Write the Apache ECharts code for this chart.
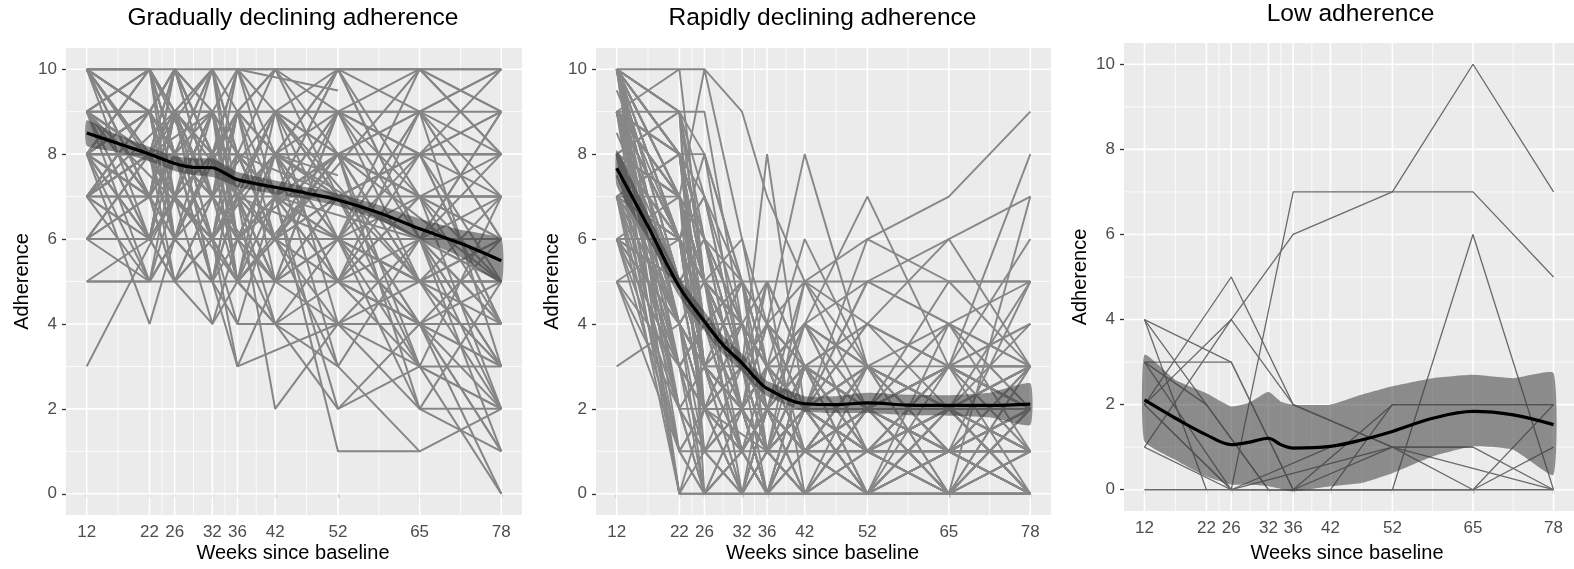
<!DOCTYPE html>
<html><head><meta charset="utf-8">
<script src="https://cdn.jsdelivr.net/npm/echarts@6/dist/echarts.min.js"></script>
<style>html,body{margin:0;padding:0;background:#fff}#c{width:1574px;height:569px}</style>
</head><body><div id="c"></div><script>
// ---------- data ----------
const weeks = [12, 22, 26, 32, 36, 42, 52, 65, 78];
const xTicks = [12, 22, 26, 32, 36, 42, 52, 65, 78];
const yTicks = [0, 2, 4, 6, 8, 10];
const panelTitles = ['Gradually declining adherence', 'Rapidly declining adherence', 'Low adherence'];
const xTitle = 'Weeks since baseline';
const yTitle = 'Adherence';

// individual trajectories: values at weeks 12,22,26,32,36,42,52,65,78 (null = missing)
const gradualTraj = [
  [10,10,10,10,10,10,10,10,10],[9,9,9,9,9,9,9,9,9],[8,8,8,8,8,8,8,8,8],[7,7,7,7,7,7,7,7,7],
  [6,6,6,6,6,6,6,6,6],[5,5,5,5,5,5,5,null,5],[3,null,7,6,5,4,4,4,4],[10,8,10,7,9,10,8,9,6],
  [9,7,6,8,7,5,6,5,3],[8,4,6,5,4,4,4,4,3],[10,9,8,10,8,7,10,6,2],[7,8,10,9,7,6,5,3,2],
  [8,6,5,4,6,8,7,5,5],[9,10,8,7,9,9,10,10,8],[6,5,7,8,6,7,5,4,1],[10,8,9,6,5,4,2,3,0],
  [8,7,6,5,3,5,4,2,2],[7,9,8,7,10,8,6,10,9],[9,8,7,6,5,4,3,1,null],[10,9,10,8,8,7,9,8,10],
  [8,9,7,9,6,7,8,7,6],[6,7,5,7,8,6,6,6,5],[9,6,8,7,6,5,5,4,5],[8,8,9,8,7,9,7,6,4],
  [7,6,6,5,7,6,4,4,3],[10,10,9,9,8,10,9,10,9],[5,6,7,6,5,5,6,5,4],[9,9,10,8,9,8,10,7,8],
  [8,5,6,7,6,4,5,4,4],[10,7,8,9,7,9,8,8,7],[7,8,7,4,5,6,6,5,2],[9,8,6,8,7,8,7,6,7],
  [8,7,8,6,4,7,6,3,3],[6,8,9,7,8,6,9,8,8],[10,9,8,7,6,7,5,7,5],[9,10,9,10,9,8,8,9,10],
  [8,6,7,8,7,2,4,5,5],[7,7,8,7,6,7,7,6,6],[10,9,10,9,10,null,9.5,null,null],[8,9,8,7,7,8,7.5,null,null],
  [9,7,9,8,null,6,3,null,null],[8,8,7,9,8,7,2,4,1],[7,5,6,6,3,null,4,3,2],[9,8,8,5,6,7,1,1,2],
  [6,6,5,6,7,8,10,9,10],[8,9,10,8,9,10,10,10,10],[10,10,9,10,10,9,9,8,9],[7,8,9,8,8,6,7,6,3],
  [9,8,8,9,6,5,6,4,0],[8,7,5,7,9,8,9,9,8],[5,5,6,8,5,6,5,7,7],[10,9,7,9,7,6,8,5,6],
  [9,7,10,7,8,7,6,2,5],[7,8,6,7,6,8,8,7,7],[8,10,8,8,10,10,7,8,8],
  [10,null,7,null,5,null,8,null,6],[9,null,null,6,null,9,null,5,null],[8,10,null,7,null,5,9,null,3],
  [10,6,9,null,7,null,6,8,4],[7,null,9,5,8,null,7,4,2],[9,8,null,10,6,8,null,6,1],
  [10,7,9,6,null,8,5,9,7],[8,9,6,null,9,6,8,null,5],[6,8,null,9,5,7,null,6,9],
  [9,5,8,7,null,9,7,3,null],[10,8,6,8,7,5,9,7,4],[8,7,9,5,8,6,null,10,8],
  [7,9,7,8,6,null,8,5,6],[9,6,7,9,8,7,6,9,3],[10,9,8,6,7,5,7,4,6],
  [8,10,7,8,5,9,6,7,null],[9,7,8,6,9,7,10,6,9],[7,6,9,7,5,8,5,8,5],
  [10,8,7,9,6,6,8,3,7],[6,7,8,5,7,9,4,6,4],[9,9,6,8,10,7,8,7,2],
  [8,6,9,9,7,4,6,9,6],[10,10,8,7,9,8,5,6,8],[7,8,5,6,8,7,9,5,3],
  [9,7,7,10,8,6,7,8,4],[8,9,9,7,6,8,3,6,5],[10,7,10,8,5,6,6,4,null],
  [9,10,6,9,7,9,8,2,1],[8,8,7,6,9,5,7,8,9],[7,9,8,10,7,8,6,5,7]
];
const rapidTraj = [
  [10,10,10,9,7,5,6,7,9],[10,9,8,5,3,2,5,6,7],[9,9,9,4,2,1,3,2,0],[10,7,10,6,3,2,1,1,1],
  [8,6,5,3,2,2,2,2,2],[7,5,3,2,1,0,0,0,0],[9,4,2,0,1,2,3,3,3],[6,5,5,5,5,5,5,4,3],
  [10,8,8,3,4,3,2,0,1],[8,3,1,2,0,1,0,2,5],[5,5,4,3,2,2,2,3,2],[9,7,6,4,3,2,1,0,0],
  [7,1,1,1,1,1,1,1,1],[10,0,0,0,0,0,0,0,0],[8,2,2,2,2,2,2,2,2],[6,4,3,4,5,3,2,1,0],
  [9,6,4,3,8,2,0,1,3],[10,9,7,5,4,8,3,2,1],[8,5,2,1,3,4,7,3,2],[7,6,5,2,2,3,1,3,8],
  [3,4,3,2,1,0,1,0,0],[5,3,2,4,3,2,0,4,2],[9,8,3,2,0,1,2,3,3],[10,5,2,3,2,1,3,2,0],
  [8,7,4,1,2,0,2,1,2],[6,2,0,1,0,2,1,0,1],[9,6,8,5,3,4,3,4,5],[7,4,3,2,4,5,4,3,3],
  [10,8,6,3,2,3,0,1,0],[5,6,5,4,3,2,5,5,5],[8,3,4,2,1,2,1,2,3],[9,5,3,0,2,1,3,0,7],
  [7,2,1,3,2,0,2,2,1],[10,6,5,3,4,2,2,1,0],[6,5,3,2,0,3,4,6,3],[8,4,3,4,3,4,3,2,2],
  [9,7,5,3,2,1,2,3,6],[7,5,2,2,3,2,6,5,5],[8,6,7,4,3,6,3,2,0],[10,4,0,2,1,3,2,3,2],
  [5,1,2,0,3,4,1,0,3],[9,8,4,3,5,3,0,0,0],[6,3,4,5,3,2,2,3,2],[8,9,5,2,1,0,1,1,1],
  [7,6,4,3,2,2,3,2,2],[9,2,3,1,0,2,0,2,1],[10,8,5,4,2,4,5,4,2],[6,4,2,3,4,2,2,0,2],
  [8,7,3,2,3,3,2,2,3],[7,3,2,1,2,1,0,1,0],[9,5,4,3,1,5,2,3,2],[8,6,3,5,2,1,3,1,0],
  [10,7,6,2,3,2,1,2,2],[5,2,1,0,2,3,2,1,2],[9,6,2,4,3,2,1,3,4],[8,5,4,1,2,3,4,2,3],
  [7,8,6,5,4,3,2,0,1],[10,6,3,2,5,0,3,2,2],[6,5,3,2,2,1,2,5,3],[8,4,1,2,3,2,1,2,2],
  [9,3,2,3,1,4,3,1,0],[7,6,5,4,3,2,2,4,1],[10,9,6,4,2,3,2,2,2],[8,2,3,2,1,1,2,3,3],
  [9,7,5,6,4,3,2,2,0],[6,6,2,3,0,2,1,0,2],[8,5,4,3,2,5,3,1,2],[7,4,3,1,3,2,2,2,3],
  [9,6,3,2,4,1,0,3,2],[10,8,7,3,2,2,2,1,2],[8.5,5,3,2,1,2,null,null,null],[7.5,4,2,null,1,0,null,null,null],
  [9.5,6,3,2,null,null,2,null,2],
  [10,7,5,3,2,3,2,1,2],[9,5,3,2,1,0,2,1,0],[8,6,4,2,3,1,1,3,2],[10,8,4,3,1,2,0,2,3],
  [7,5,4,1,2,1,3,2,1],[9,4,3,2,3,4,2,3,1],[8,7,5,4,2,1,2,1,3],[10,6,4,5,3,2,4,3,2],
  [6,3,2,2,1,2,1,2,0],[9,8,6,2,1,3,2,4,3],[8,4,5,3,4,2,1,1,2],[10,9,5,3,2,1,3,0,2],
  [7,7,4,2,3,2,2,3,4],[9,6,5,1,2,4,3,2,1],[8,5,3,4,1,3,0,2,2],[10,7,3,2,4,2,2,1,5],
  [6,4,5,3,2,1,1,2,1],[9,7,4,3,1,2,4,3,2],[8,3,2,1,2,0,2,0,0],[10,6,5,4,3,3,1,2,2],
  [7,5,6,3,2,2,3,1,3],[9,8,5,4,3,1,2,2,1],[8,6,2,3,2,4,1,3,2],[10,5,4,2,0,3,2,2,4],
  [7,3,4,2,1,1,2,1,2],[9,6,7,3,2,2,1,3,0],[8,7,3,5,1,2,3,2,3],[10,4,3,1,2,2,0,1,1],
  [6,5,4,2,3,1,2,3,2],[9,7,6,3,1,3,3,2,2],[8,5,4,4,2,2,2,0,3],[10,8,5,2,3,1,1,2,2],
  [7,6,3,3,2,4,2,3,1],[9,4,2,2,1,2,3,1,2],[8,6,5,3,4,3,1,2,0],[10,7,4,4,2,2,2,3,2],
  [7,4,3,1,0,1,2,2,3],[9,5,6,4,3,2,1,1,2],[8,7,4,2,2,3,2,1,1],[10,5,3,3,1,1,2,2,2],
  [9,0,1,0,2,1,0,1,0],[8,1,0,2,0,0,1,0,2],[10,2,0,1,0,1,0,0,1],[7,0,2,1,0,3,1,0,0],
  [9,3,0,0,1,0,2,1,0],[10,1,2,0,0,2,0,1,1],[8,0,0,1,2,0,1,2,0],[6,1,0,0,1,2,1,0,0],
  [9,2,1,0,0,1,0,0,2],[10,3,1,2,0,0,2,1,0],[8,9,0,1,0,2,0,1,1],[9,10,5,0,1,0,1,2,0],
  [7,8,3,0,2,1,0,0,1],[10,9,2,1,0,2,1,1,0],[6,7,1,2,0,0,0,2,1]
];
const lowTraj = [
  [0,0,0,0,0,0,0,0,0],[2,null,4,null,6,null,7,10,7],[1,null,0,null,7,null,7,7,5],
  [2,null,5,null,2,null,1,1,0],[3,null,3,null,0,null,2,2,2],[4,null,3,null,0,null,1,0,1],
  [4,0,null,null,null,null,null,null,null],[3,null,0,null,null,1,null,null,null],
  [1,null,4,null,2,null,1,null,0],[2,null,0,null,null,0,2,2,2],[4,null,null,0,null,null,0,6,0],
  [3,2,null,0,null,null,null,0,2],[2,null,0,null,null,null,1,1,null]
];

// smoothed mean and 95% band, read at these weeks
const smoothWeeks = [12, 17, 22, 26, 29, 32, 34, 36, 42, 47, 52, 58.5, 65, 71.5, 78];
const gradualMean  = [8.50, 8.25, 8.00, 7.78, 7.69, 7.68, 7.55, 7.40, 7.22, 7.08, 6.92, 6.62, 6.24, 5.90, 5.49];
const gradualUpper = [8.80, 8.45, 8.17, 7.95, 7.90, 7.90, 7.75, 7.58, 7.38, 7.22, 7.07, 6.80, 6.48, 6.22, 6.00];
const gradualLower = [8.20, 8.05, 7.83, 7.60, 7.50, 7.46, 7.35, 7.22, 7.06, 6.94, 6.78, 6.44, 6.00, 5.58, 4.98];
const rapidMean  = [7.67, 6.30, 4.87, 4.06, 3.50, 3.08, 2.75, 2.48, 2.12, 2.10, 2.14, 2.09, 2.08, 2.08, 2.11];
const rapidUpper = [8.10, 6.60, 5.10, 4.30, 3.72, 3.30, 2.95, 2.66, 2.30, 2.30, 2.38, 2.33, 2.32, 2.38, 2.60];
const rapidLower = [7.25, 6.00, 4.64, 3.84, 3.28, 2.88, 2.55, 2.30, 1.94, 1.90, 1.90, 1.85, 1.84, 1.80, 1.62];
const lowMean  = [2.11, 1.68, 1.29, 1.06, 1.12, 1.21, 1.06, 0.98, 1.02, 1.17, 1.37, 1.68, 1.84, 1.76, 1.53];
const lowUpper = [3.17, 2.58, 2.27, 1.96, 2.05, 2.30, 2.07, 2.00, 2.00, 2.23, 2.43, 2.62, 2.70, 2.62, 2.74];
const lowLower = [1.14, 0.70, 0.31, 0.12, 0.12, 0.08, 0.02, -0.04, 0.08, 0.16, 0.39, 0.78, 1.02, 0.94, 0.35];

const minorX = [17, 24, 29, 34, 39, 47, 58.5, 71.5];
const minorY = [1, 3, 5, 7, 9];

// ---------- chart ----------
const FONT = '"Liberation Sans", Arial, Helvetica, sans-serif';
const grids = [
  {left: 66, top: 48, width: 456, height: 467},
  {left: 596, top: 48, width: 455, height: 467},
  {left: 1124, top: 43, width: 455, height: 468}
];
const panels = [
  {traj: gradualTraj, mean: gradualMean, up: gradualUpper, lo: gradualLower, color: '#858585', width: 2.0},
  {traj: rapidTraj, mean: rapidMean, up: rapidUpper, lo: rapidLower, color: '#878787', width: 1.9},
  {traj: lowTraj, mean: lowMean, up: lowUpper, lo: lowLower, color: '#6a6a6a', width: 1.3}
];

const option = {
  animation: false,
  backgroundColor: '#ffffff',
  textStyle: {fontFamily: FONT},
  grid: grids.map(g => Object.assign({show: true, backgroundColor: '#ebebeb', borderWidth: 0, containLabel: false}, g)),
  xAxis: grids.map((g, i) => ({
    type: 'value', gridIndex: i, min: 8.7, max: 81.3,
    axisLine: {show: false}, splitLine: {show: false},
    axisTick: {show: true, customValues: xTicks, length: 4, lineStyle: {color: '#333', width: 1.3}},
    axisLabel: {customValues: xTicks, margin: 9, fontSize: 17, color: '#4d4d4d', fontFamily: FONT}
  })),
  yAxis: grids.map((g, i) => ({
    type: 'value', gridIndex: i, min: -0.5, max: 10.5,
    axisLine: {show: false}, splitLine: {show: false},
    axisTick: {show: true, customValues: yTicks, length: 4, lineStyle: {color: '#333', width: 1.3}},
    axisLabel: {customValues: yTicks, margin: 9, fontSize: 17, color: '#4d4d4d', fontFamily: FONT}
  })),
  series: [],
  graphic: []
};

panels.forEach((p, gi) => {
  // grid lines (white)
  const gl = [];
  minorX.forEach(v => gl.push([v, 5, 0, 0]));
  xTicks.forEach(v => gl.push([v, 5, 1, 0]));
  minorY.forEach(v => gl.push([30, v, 0, 1]));
  yTicks.forEach(v => gl.push([30, v, 1, 1]));
  option.series.push({
    type: 'custom', xAxisIndex: gi, yAxisIndex: gi, silent: true, z: 1,
    data: gl, encode: {x: 0, y: 1},
    renderItem: (params, api) => {
      const cs = params.coordSys;
      const major = api.value(2), horiz = api.value(3);
      const pt = api.coord([api.value(0), api.value(1)]);
      const shape = horiz ? {x1: cs.x, y1: pt[1], x2: cs.x + cs.width, y2: pt[1]}
                          : {x1: pt[0], y1: cs.y, x2: pt[0], y2: cs.y + cs.height};
      return {type: 'line', shape, style: {stroke: '#ffffff', lineWidth: major ? 1.6 : 0.8}};
    }
  });
  // trajectories
  p.traj.forEach(t => {
    const d = [];
    weeks.forEach((w, i) => { if (t[i] !== null) d.push([w, t[i]]); });
    option.series.push({
      type: 'line', xAxisIndex: gi, yAxisIndex: gi, data: d, symbol: 'none', silent: true, z: 3,
      lineStyle: {color: p.color, width: p.width}
    });
  });
  // confidence band
  option.series.push({
    type: 'custom', xAxisIndex: gi, yAxisIndex: gi, silent: true, z: 4,
    data: [[smoothWeeks[0], p.mean[0]]], encode: {x: 0, y: 1},
    renderItem: (params, api) => {
      const pts = [];
      smoothWeeks.forEach((w, i) => pts.push(api.coord([w, p.up[i]])));
      for (let i = smoothWeeks.length - 1; i >= 0; i--) pts.push(api.coord([smoothWeeks[i], p.lo[i]]));
      return {type: 'polygon', shape: {points: pts, smooth: 0.15}, style: {fill: 'rgba(60,60,60,0.55)'}};
    }
  });
  // smoothed mean
  option.series.push({
    type: 'line', xAxisIndex: gi, yAxisIndex: gi, silent: true, z: 5,
    data: smoothWeeks.map((w, i) => [w, p.mean[i]]), symbol: 'none', smooth: 0.35,
    lineStyle: {color: '#000000', width: 3.2}
  });

  const g = grids[gi];
  const cx = g.left + g.width / 2;
  option.graphic.push({
    type: 'text', x: cx - 1, y: gi === 2 ? 14 : 18, silent: true,
    style: {text: panelTitles[gi], font: '24.5px ' + FONT, fill: '#000', align: 'center', verticalAlign: 'middle'}
  });
  option.graphic.push({
    type: 'text', x: gi === 2 ? 1347 : (g.left + 0.5 * g.width - 1), y: 553, silent: true,
    style: {text: xTitle, font: '20px ' + FONT, fill: '#000', align: 'center', verticalAlign: 'middle'}
  });
  option.graphic.push({
    type: 'text', x: g.left - 44, y: g.top + g.height / 2, rotation: Math.PI / 2, silent: true,
    style: {text: yTitle, font: '20px ' + FONT, fill: '#000', align: 'center', verticalAlign: 'middle'}
  });
});

const chart = echarts.init(document.getElementById('c'), null, {renderer: 'canvas'});
chart.setOption(option);
</script></body></html>
